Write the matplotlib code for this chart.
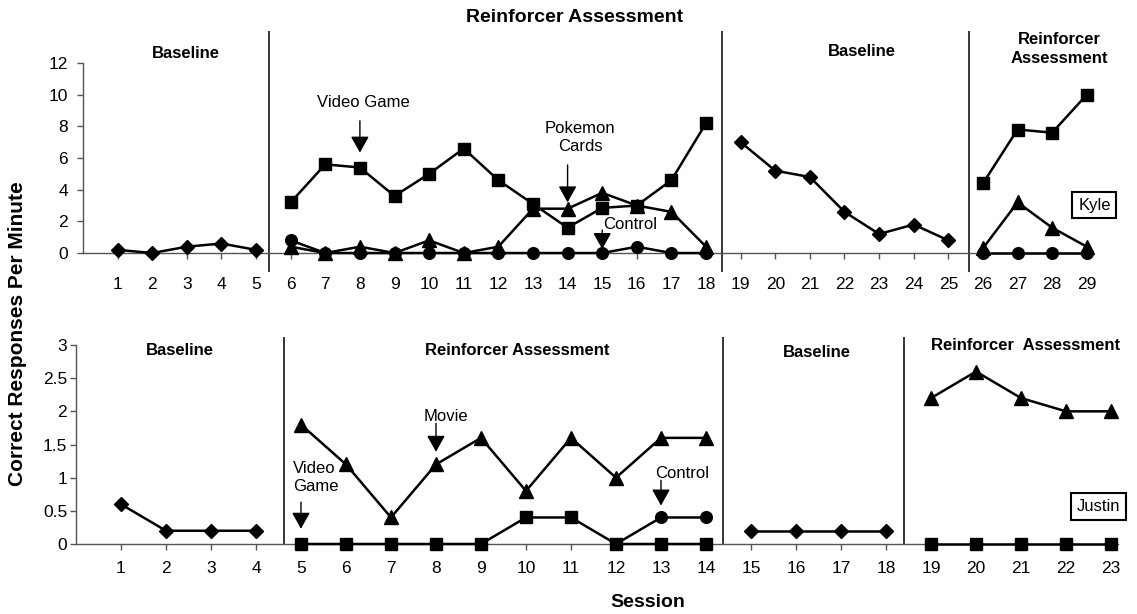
import matplotlib
matplotlib.use('Agg')
import matplotlib.pyplot as plt
import numpy as np

plt.rcParams['font.family'] = ['Liberation Sans', 'DejaVu Sans']

# Kyle (top panel)
kyle_base1_x = [1, 2, 3, 4, 5]
kyle_base1 = [0.2, 0.0, 0.4, 0.6, 0.2]
kyle_rein1_x = list(range(6, 19))
kyle_video = [3.2, 5.6, 5.4, 3.6, 5.0, 6.6, 4.6, 3.1, 1.6, 2.85, 3.0, 4.6, 8.2]
kyle_pokemon = [0.4, 0.0, 0.4, 0.0, 0.8, 0.0, 0.4, 2.8, 2.8, 3.8, 3.0, 2.6, 0.4]
kyle_control = [0.8, 0.0, 0.0, 0.0, 0.0, 0.0, 0.0, 0.0, 0.0, 0.0, 0.4, 0.0, 0.0]
kyle_base2_x = [19, 20, 21, 22, 23, 24, 25]
kyle_base2 = [7.0, 5.2, 4.8, 2.6, 1.2, 1.8, 0.8]
kyle_rein2_x = [26, 27, 28, 29]
kyle_video2 = [4.4, 7.8, 7.6, 10.0]
kyle_pokemon2 = [0.3, 3.2, 1.6, 0.4]
kyle_control2 = [0.0, 0.0, 0.0, 0.0]
kyle_phases = [5.37, 18.47, 25.6]

# Justin (bottom panel)
justin_base1_x = [1, 2, 3, 4]
justin_base1 = [0.6, 0.2, 0.2, 0.2]
justin_rein1_x = list(range(5, 15))
justin_movie = [1.8, 1.2, 0.4, 1.2, 1.6, 0.8, 1.6, 1.0, 1.6, 1.6]
justin_video = [0.0, 0.0, 0.0, 0.0, 0.0, 0.4, 0.4, 0.0, 0.0, 0.0]
justin_control_x = [12, 13, 14]
justin_control = [0.0, 0.4, 0.4]
justin_base2_x = [15, 16, 17, 18]
justin_base2 = [0.2, 0.2, 0.2, 0.2]
justin_rein2_x = [19, 20, 21, 22, 23]
justin_movie2 = [2.2, 2.6, 2.2, 2.0, 2.0]
justin_video2 = [0.0, 0.0, 0.0, 0.0, 0.0]
justin_phases = [4.62, 14.38, 18.4]

LW = 1.8
SPINE = '#555555'


def series(ax, x, y, marker, ms):
    ax.plot(x, y, color='black', lw=LW, marker=marker, ms=ms,
            markerfacecolor='black', markeredgecolor='black', clip_on=False, zorder=3)


def style_axes(ax, xmax, ymax, ystep, xpad, ypad):
    ax.set_xlim(0, xmax)
    ax.set_ylim(0, ymax)
    for s in ['top', 'right']:
        ax.spines[s].set_visible(False)
    for s in ['left', 'bottom']:
        ax.spines[s].set_color(SPINE)
        ax.spines[s].set_linewidth(1.0)
    ax.tick_params(axis='both', direction='out', length=4.3, width=1.0,
                   color=SPINE, labelsize=12.5)
    ax.tick_params(axis='x', pad=xpad)
    ax.tick_params(axis='y', pad=ypad)
    ax.set_yticks(np.arange(0, ymax + ystep / 2, ystep))


def arrow(ax, x, y0, y1):
    ax.annotate('', xy=(x, y1), xytext=(x, y0),
                arrowprops=dict(arrowstyle='-|>,head_length=0.5,head_width=0.28',
                                mutation_scale=20, lw=1.0, color='black',
                                shrinkA=0, shrinkB=0))


fig = plt.figure(figsize=(11.37, 6.14), dpi=100)

# ---- top: Kyle
ax1 = fig.add_axes([0.0730, 0.5879, 0.8874, 0.3095])
style_axes(ax1, 29.15, 12, 2, 13, 6.5)
ax1.set_xticks(range(1, 30))
ax1.set_yticklabels(['0', '2', '4', '6', '8', '10', '12'])

series(ax1, kyle_base1_x, kyle_base1, 'D', 7)
series(ax1, kyle_rein1_x, kyle_video, 's', 8.9)
series(ax1, kyle_rein1_x, kyle_pokemon, '^', 9.5)
series(ax1, kyle_rein1_x, kyle_control, 'o', 8.4)
series(ax1, kyle_base2_x, kyle_base2, 'D', 7)
series(ax1, kyle_rein2_x, kyle_video2, 's', 8.9)
series(ax1, kyle_rein2_x, kyle_pokemon2, '^', 9.5)
series(ax1, kyle_rein2_x, kyle_control2, 'o', 8.4)

ax1.vlines(kyle_phases, -1.2, 14.0, color='black', lw=1.1, clip_on=False)

ax1.text(14.2, 14.85, 'Reinforcer Assessment', ha='center', va='center',
         fontsize=14, fontweight='bold')
ax1.text(2.98, 12.6, 'Baseline', ha='center', va='center', fontsize=12, fontweight='bold')
ax1.text(22.5, 12.7, 'Baseline', ha='center', va='center', fontsize=12, fontweight='bold')
ax1.text(28.2, 12.9, 'Reinforcer\nAssessment', ha='center', va='center',
         fontsize=12, fontweight='bold', linespacing=1.35)

ax1.text(8.09, 9.5, 'Video Game', ha='center', va='center', fontsize=12)
arrow(ax1, 8, 8.35, 6.34)
ax1.text(14.37, 7.3, 'Pokemon\nCards', ha='center', va='center', fontsize=12,
         linespacing=1.3)
arrow(ax1, 14, 5.56, 3.2)
ax1.text(15.8, 1.8, 'Control', ha='center', va='center', fontsize=12)
arrow(ax1, 15, 1.45, 0.25)

ax1.text(29.22, 3.03, 'Kyle', ha='center', va='center', fontsize=12,
         bbox=dict(boxstyle='square,pad=0.35', fc='white', ec='black', lw=1.5))

# ---- bottom: Justin
ax2 = fig.add_axes([0.0668, 0.1140, 0.9163, 0.3241])
style_axes(ax2, 23.15, 3, 0.5, 8, 2)
ax2.set_xticks(range(1, 24))
ax2.set_yticklabels(['0', '0.5', '1', '1.5', '2', '2.5', '3'])

series(ax2, justin_base1_x, justin_base1, 'D', 7)
series(ax2, justin_rein1_x, justin_movie, '^', 9.5)
series(ax2, justin_rein1_x, justin_video, 's', 8.9)
series(ax2, justin_control_x, justin_control, 'o', 8.4)
series(ax2, justin_base2_x, justin_base2, 'D', 7)
series(ax2, justin_rein2_x, justin_movie2, '^', 9.5)
series(ax2, justin_rein2_x, justin_video2, 's', 8.9)

ax2.vlines(justin_phases, 0, 3.12, color='black', lw=1.1, clip_on=False)

ax2.text(2.31, 2.91, 'Baseline', ha='center', va='center', fontsize=12, fontweight='bold')
ax2.text(9.8, 2.91, 'Reinforcer Assessment', ha='center', va='center',
         fontsize=12, fontweight='bold')
ax2.text(16.47, 2.88, 'Baseline', ha='center', va='center', fontsize=12, fontweight='bold')
ax2.text(21.1, 3.0, 'Reinforcer  Assessment', ha='center', va='center',
         fontsize=12, fontweight='bold')

ax2.text(8.22, 1.92, 'Movie', ha='center', va='center', fontsize=12)
arrow(ax2, 8, 1.82, 1.39)
ax2.text(4.82, 1.0, 'Video\nGame', ha='left', va='center', fontsize=12,
         linespacing=1.3)
arrow(ax2, 5, 0.63, 0.23)
ax2.text(13.47, 1.06, 'Control', ha='center', va='center', fontsize=12)
arrow(ax2, 13, 0.96, 0.58)

ax2.text(22.73, 0.57, 'Justin', ha='center', va='center', fontsize=12,
         bbox=dict(boxstyle='square,pad=0.35', fc='white', ec='black', lw=1.5))

fig.text(0.015, 0.456, 'Correct Responses Per Minute', rotation=90,
         ha='center', va='center', fontsize=15, fontweight='bold')
fig.text(0.570, 0.018, 'Session', ha='center', va='center', fontsize=14,
         fontweight='bold')

fig.savefig('out.png', dpi=100)
